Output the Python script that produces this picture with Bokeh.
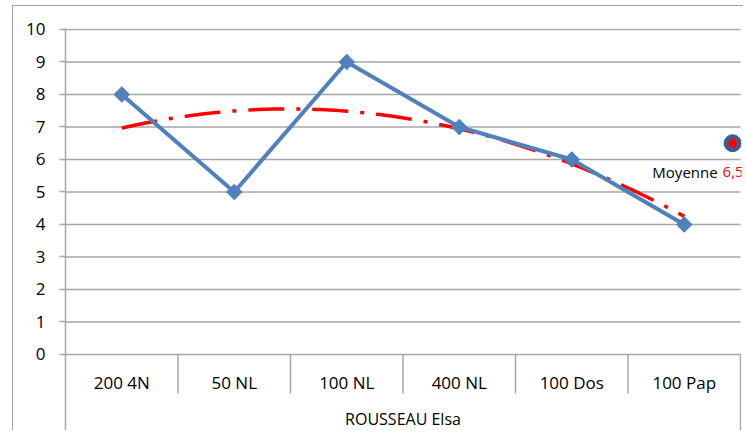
import numpy as np
from bokeh.plotting import figure
from bokeh.models import Range1d, FixedTicker, Label, ColumnDataSource
from bokeh.core.properties import value
from bokeh.embed import file_html
from bokeh.resources import INLINE

# ---- data ----
categories = ["200 4N", "50 NL", "100 NL", "400 NL", "100 Dos", "100 Pap"]
group_label = "ROUSSEAU Elsa"
scores = [8, 5, 9, 7, 6, 4]
moyenne = 6.5
moyenne_text = "6,5"
y_ticks = [0, 1, 2, 3, 4, 5, 6, 7, 8, 9, 10]

FONT = "Open Sans"
GRID = "#A6A6A6"

xs = list(range(1, len(categories) + 1))

p = figure(width=731, height=425, output_backend="svg", toolbar_location=None,
           x_axis_location=None, y_axis_location="left",
           x_range=Range1d(0.5, 6.5 + 1 / 112.7), y_range=Range1d(-2.37, 10.03),
           min_border_left=52, min_border_right=3, min_border_top=22,
           min_border_bottom=0)
p.styles = {"margin-left": "12px", "margin-top": "5px",
            "border-left": "1px solid #A0A0A0", "border-top": "1px solid #A0A0A0"}
p.outline_line_color = None
p.grid.visible = False
p.background_fill_color = "white"

ax = p.yaxis[0]
ax.ticker = FixedTicker(ticks=y_ticks)
ax.axis_line_color = GRID
ax.axis_line_width = 1.5
ax.major_tick_line_color = GRID
ax.major_tick_line_width = 1.5
ax.major_tick_in = 0
ax.major_tick_out = 6
ax.minor_tick_line_color = None
ax.major_label_standoff = 14
ax.major_label_text_font = FONT
ax.major_label_text_font_size = "17px"
ax.major_label_text_color = "black"

# horizontal gridlines
x0 = [0.5] * len(y_ticks)
x1 = [len(categories) + 0.5] * len(y_ticks)
p.segment(x0=x0, y0=y_ticks, x1=x1, y1=y_ticks, line_color=GRID, line_width=1.5)

# category separators
seps = [i + 0.5 for i in range(1, len(categories))]
p.segment(x0=seps, y0=[0] * len(seps), x1=seps, y1=[-1.2] * len(seps),
          line_color=GRID, line_width=1.5)
p.segment(x0=[len(categories) + 0.5], y0=[0], x1=[len(categories) + 0.5], y1=[-2.5],
          line_color=GRID, line_width=1.5)

# category labels
p.text(x=xs, y=[-0.86] * len(xs), text=categories, text_font=value(FONT),
       text_font_size="17px", text_align="center", text_baseline="middle",
       text_color="black")
p.text(x=[(len(categories) + 1) / 2], y=[-1.97], text=[group_label], text_font=value(FONT),
       text_font_size="16px", text_align="center", text_baseline="middle",
       text_color="black")

# polynomial (order 2) trendline of the scores
coef = np.polyfit(xs, scores, 2)
xt = np.linspace(1, len(categories), 120)
p.line(xt, np.polyval(coef, xt), line_color="#FF0000", line_width=3.5,
       line_dash="36 12 4 12")

# data line
src = ColumnDataSource(dict(x=xs, y=scores))
p.line("x", "y", source=src, line_color="#4F81BD", line_width=4)
p.scatter("x", "y", source=src, marker="square", angle=np.pi / 4, size=11,
          fill_color="#4F81BD", line_color="#4F81BD")

# moyenne point
p.scatter([6.43], [moyenne], marker="circle", size=17, fill_color="#3A5F8F",
          line_color="#3A5F8F")
p.scatter([6.43], [moyenne], marker="circle", size=8, fill_color="#FF0000",
          line_color="#FF0000")
p.add_layout(Label(x=6.51, y=5.62, x_offset=2, text=moyenne_text, text_align="right",
                   text_baseline="middle", text_font=FONT, text_font_size="15px",
                   text_color="#FF0000"))
p.add_layout(Label(x=6.51, y=5.62, x_offset=-24, text="Moyenne", text_align="right",
                   text_baseline="middle", text_font=FONT, text_font_size="15px",
                   text_color="black"))

open("out.html", "w").write(file_html(p, INLINE))
